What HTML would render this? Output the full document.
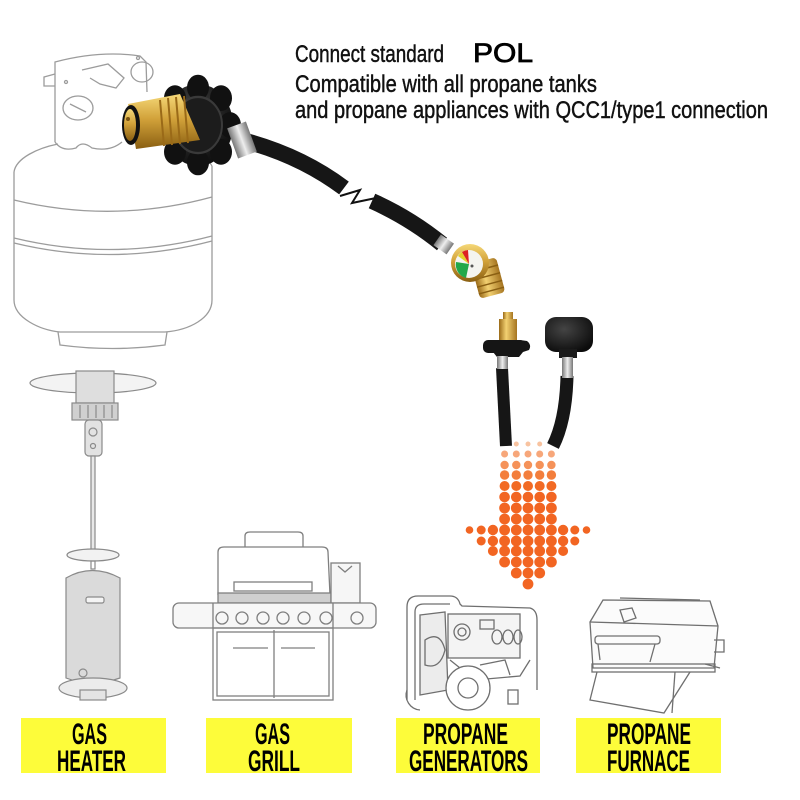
<!DOCTYPE html>
<html><head><meta charset="utf-8"><style>html,body{margin:0;padding:0;background:#fff}svg{display:block}</style></head>
<body>
<svg width="800" height="800" viewBox="0 0 800 800" xmlns="http://www.w3.org/2000/svg">
<defs>
<linearGradient id="brass" x1="0" y1="0" x2="0" y2="1"><stop offset="0" stop-color="#f5d878"/><stop offset=".45" stop-color="#d2a23a"/><stop offset="1" stop-color="#8a5f12"/></linearGradient>
<linearGradient id="brassH" x1="0" y1="0" x2="1" y2="0"><stop offset="0" stop-color="#9a6a18"/><stop offset=".4" stop-color="#f2d071"/><stop offset="1" stop-color="#a57420"/></linearGradient>
<linearGradient id="silver" x1="0" y1="0" x2="1" y2="0"><stop offset="0" stop-color="#777"/><stop offset=".5" stop-color="#eee"/><stop offset="1" stop-color="#777"/></linearGradient>
<radialGradient id="knob" cx=".4" cy=".35" r=".7"><stop offset="0" stop-color="#444"/><stop offset="1" stop-color="#0c0c0c"/></radialGradient>
</defs>
<rect width="800" height="800" fill="#fff"/>

<!-- ===== Tank line art ===== -->
<g fill="none" stroke="#9c9c9c" stroke-width="1.3">
<path d="M14 172 C16 158 38 148 58 144"/>
<path d="M150 142 C178 146 205 153 212 166"/>
<path d="M14 172 L14 300 C14 318 40 330 60 332 L165 332 C190 330 212 318 212 300 L212 166"/>
<path d="M58 332 L60 345 Q112 352 165 345 L167 332"/>
<path d="M14 200 Q113 224 212 197"/>
<path d="M14 238 Q113 262 212 236"/>
<path d="M14 243 Q113 267 212 241"/>
<path d="M55 142 L55 62 Q100 50 140 56 L146 62 L147 92"/>
<path d="M55 142 Q62 152 76 148 Q82 140 92 148 Q110 152 122 142"/>
<ellipse cx="78" cy="108" rx="15" ry="12"/>
<path d="M70 104 L86 112"/>
<ellipse cx="142" cy="72" rx="11" ry="10"/>
<path d="M55 74 L44 77 L44 86 L55 86"/>
<path d="M82 70 L108 64 L124 78 L116 88 L100 84 L90 78"/>
<circle cx="66" cy="82" r="1.5"/><circle cx="138" cy="58" r="1.5"/>
</g>

<!-- ===== Hose 1 ===== -->
<path d="M242 140 Q300 155 344 188" fill="none" stroke="#161616" stroke-width="16"/>
<path d="M372 201 Q410 218 442 244" fill="none" stroke="#161616" stroke-width="16"/>
<polyline points="340,196 360,190 352,203 376,198" fill="none" stroke="#111" stroke-width="2"/>
<rect x="436" y="238" width="16" height="13" fill="url(#silver)" transform="rotate(35 444 244)"/>
<!-- gauge -->
<g transform="rotate(-15 480 275)">
<rect x="474" y="262" width="26" height="36" rx="4" fill="url(#brassH)"/>
<path d="M474 270 H500 M474 278 H500 M474 286 H500 M474 293 H500" stroke="#8a5f12" stroke-width="1.5"/>
</g>
<circle cx="470" cy="263" r="19" fill="url(#brass)"/>
<circle cx="469" cy="264" r="14" fill="#f4f4f0"/>
<path d="M469 264 L456 262 A14 14 0 0 0 466 278 Z" fill="#22a84a"/>
<path d="M469 264 L458 256 A14 14 0 0 1 462 252 Z" fill="#e3d12a"/>
<path d="M469 264 L462 252 A14 14 0 0 1 468 250 Z" fill="#d22"/>
<circle cx="472" cy="266" r="1.5" fill="#555"/>

<!-- ===== Knob + brass POL ===== -->
<g transform="translate(198 125) scale(1 1.17)">
<circle r="35" fill="url(#knob)"/>
<g fill="#111">
<circle cx="0" cy="-32" r="11"/><circle cx="23" cy="-23" r="11"/><circle cx="32" cy="0" r="11"/><circle cx="23" cy="23" r="11"/>
<circle cx="0" cy="32" r="11"/><circle cx="-23" cy="23" r="11"/><circle cx="-32" cy="0" r="11"/><circle cx="-23" cy="-23" r="11"/>
</g>
<circle r="24" fill="#1c1c1c" stroke="#3a3a3a" stroke-width="2"/>
</g>
<rect x="232" y="124" width="20" height="32" fill="url(#silver)" transform="rotate(-20 242 140)"/>
<path d="M128 104 L180 94 L200 140 L136 149 Z" fill="url(#brass)"/>
<path d="M160 100 L164 146 M168 98 L172 145 M176 97 L180 144 M184 96 L188 143" stroke="#9a6a18" stroke-width="2"/>
<ellipse cx="131" cy="125" rx="9" ry="20" fill="#111"/>
<ellipse cx="130" cy="125" rx="6" ry="16" fill="url(#brass)"/>
<circle cx="128" cy="119" r="2" fill="#7a5210"/>

<!-- ===== Top text ===== -->
<g font-family="Liberation Sans, sans-serif" fill="#111" stroke="#111" stroke-width="0.45">
<text x="295" y="62" font-size="24" textLength="149" lengthAdjust="spacingAndGlyphs">Connect standard</text>
<text x="473" y="62" font-size="27" textLength="60" lengthAdjust="spacingAndGlyphs" fill="#000" stroke="#000" stroke-width="0.8">POL</text>
<text x="295" y="92" font-size="24" textLength="302" lengthAdjust="spacingAndGlyphs">Compatible with all propane tanks</text>
<text x="295" y="118" font-size="24" textLength="473" lengthAdjust="spacingAndGlyphs">and propane appliances with QCC1/type1 connection</text>
</g>

<!-- ===== Hose pair 2 ===== -->
<path d="M502 368 L506 446" fill="none" stroke="#161616" stroke-width="12"/>
<path d="M567 376 Q566 420 553 446" fill="none" stroke="#161616" stroke-width="13"/>
<rect x="503" y="312" width="10" height="8" fill="url(#brassH)"/>
<rect x="499" y="319" width="18" height="25" fill="url(#brassH)"/>
<path d="M486 342 Q483 348 487 352 L493 352 L497 357 L519 357 L523 352 L529 350 Q532 345 527 341 L520 340 Z" fill="#151515"/>
<rect x="483" y="340" width="42" height="13" rx="5" fill="#151515"/>
<rect x="497" y="356" width="11" height="13" fill="url(#silver)"/>
<rect x="545" y="317" width="48" height="35" rx="11" fill="url(#knob)"/>
<rect x="559" y="349" width="18" height="9" fill="#1a1a1a"/>
<rect x="562" y="357" width="11" height="21" fill="url(#silver)"/>

<!-- ===== Orange dot arrow ===== -->
<g>
<g fill="#f8c3a0"><circle cx="516.3" cy="444" r="2.5"/><circle cx="528" cy="444" r="2.5"/><circle cx="539.7" cy="444" r="2.5"/></g>
<g fill="#f7a77a"><circle cx="504.6" cy="454" r="3.5"/><circle cx="516.3" cy="454" r="3.5"/><circle cx="528" cy="454" r="3.5"/><circle cx="539.7" cy="454" r="3.5"/><circle cx="551.4" cy="454" r="3.5"/></g>
<g fill="#f59259"><circle cx="504.6" cy="465" r="4.2"/><circle cx="516.3" cy="465" r="4.2"/><circle cx="528" cy="465" r="4.2"/><circle cx="539.7" cy="465" r="4.2"/><circle cx="551.4" cy="465" r="4.2"/></g>
<g fill="#f37e3c"><circle cx="504.6" cy="475" r="4.7"/><circle cx="516.3" cy="475" r="4.7"/><circle cx="528" cy="475" r="4.7"/><circle cx="539.7" cy="475" r="4.7"/><circle cx="551.4" cy="475" r="4.7"/></g>
<g fill="#f26a24"><circle cx="504.6" cy="486" r="5"/><circle cx="516.3" cy="486" r="5"/><circle cx="528" cy="486" r="5"/><circle cx="539.7" cy="486" r="5"/><circle cx="551.4" cy="486" r="5"/></g>
<g fill="#f26522">
<circle cx="504.6" cy="497" r="5.3"/><circle cx="516.3" cy="497" r="5.3"/><circle cx="528" cy="497" r="5.3"/><circle cx="539.7" cy="497" r="5.3"/><circle cx="551.4" cy="497" r="5.3"/>
<circle cx="504.6" cy="508" r="5.4"/><circle cx="516.3" cy="508" r="5.4"/><circle cx="528" cy="508" r="5.4"/><circle cx="539.7" cy="508" r="5.4"/><circle cx="551.4" cy="508" r="5.4"/>
<circle cx="504.6" cy="519" r="5.4"/><circle cx="516.3" cy="519" r="5.4"/><circle cx="528" cy="519" r="5.4"/><circle cx="539.7" cy="519" r="5.4"/><circle cx="551.4" cy="519" r="5.4"/>
<circle cx="469.5" cy="530" r="3.8"/><circle cx="481.2" cy="530" r="4.5"/><circle cx="492.9" cy="530" r="5.2"/><circle cx="504.6" cy="530" r="5.4"/><circle cx="516.3" cy="530" r="5.4"/><circle cx="528" cy="530" r="5.4"/><circle cx="539.7" cy="530" r="5.4"/><circle cx="551.4" cy="530" r="5.4"/><circle cx="563.1" cy="530" r="5.2"/><circle cx="574.8" cy="530" r="4.5"/><circle cx="586.5" cy="530" r="3.8"/>
<circle cx="481.2" cy="541" r="4.5"/><circle cx="492.9" cy="541" r="5.2"/><circle cx="504.6" cy="541" r="5.4"/><circle cx="516.3" cy="541" r="5.4"/><circle cx="528" cy="541" r="5.4"/><circle cx="539.7" cy="541" r="5.4"/><circle cx="551.4" cy="541" r="5.4"/><circle cx="563.1" cy="541" r="5.2"/><circle cx="574.8" cy="541" r="4.5"/>
<circle cx="492.9" cy="551" r="5"/><circle cx="504.6" cy="551" r="5.4"/><circle cx="516.3" cy="551" r="5.4"/><circle cx="528" cy="551" r="5.4"/><circle cx="539.7" cy="551" r="5.4"/><circle cx="551.4" cy="551" r="5.4"/><circle cx="563.1" cy="551" r="5"/>
<circle cx="504.6" cy="562" r="5.4"/><circle cx="516.3" cy="562" r="5.4"/><circle cx="528" cy="562" r="5.4"/><circle cx="539.7" cy="562" r="5.4"/><circle cx="551.4" cy="562" r="5.4"/>
<circle cx="516.3" cy="573" r="5.4"/><circle cx="528" cy="573" r="5.4"/><circle cx="539.7" cy="573" r="5.4"/>
<circle cx="528" cy="584" r="5.4"/>
</g>
</g>

<!-- ===== Patio heater ===== -->
<g stroke="#8a8a8a" stroke-width="1.2" fill="none">
<ellipse cx="93" cy="383" rx="63" ry="10" fill="#f3f3f3"/>
<rect x="76" y="371" width="38" height="32" fill="#dedede"/>
<rect x="72" y="403" width="46" height="17" fill="#d0d0d0"/>
<path d="M80 405 V418 M88 405 V418 M96 405 V418 M104 405 V418 M112 405 V418"/>
<rect x="85" y="420" width="17" height="36" rx="4" fill="#e2e2e2"/>
<circle cx="93" cy="432" r="4"/><circle cx="93" cy="446" r="2.5"/>
<rect x="91" y="456" width="4" height="100" fill="#e8e8e8"/>
<ellipse cx="93" cy="555" rx="26" ry="6" fill="#f2f2f2"/>
<rect x="91" y="561" width="4" height="8"/>
<path d="M66 578 Q92 563 120 578 L120 678 Q92 688 66 678 Z" fill="#dadada"/>
<rect x="86" y="597" width="18" height="6" rx="2" fill="#f4f4f4"/>
<circle cx="83" cy="673" r="4"/>
<ellipse cx="93" cy="688" rx="34" ry="10" fill="#ececec"/>
<rect x="80" y="690" width="26" height="10" fill="#e4e4e4"/>
</g>

<!-- ===== Grill ===== -->
<g stroke="#7f7f7f" stroke-width="1.3" fill="none">
<path d="M245 547 L245 536 Q245 532 250 532 L298 532 Q303 532 303 536 L303 547"/>
<path d="M218 595 L218 552 Q218 547 224 547 L322 547 Q328 547 328 552 L330 595"/>
<rect x="234" y="582" width="78" height="9"/>
<rect x="218" y="593" width="113" height="10" fill="#cfcfcf"/>
<rect x="331" y="563" width="29" height="40" fill="#f6f6f6"/>
<path d="M338 566 L345 572 L352 566"/>
<rect x="173" y="603" width="203" height="25" rx="6" fill="#f7f7f7"/>
<path d="M213 603 V628 M333 603 V628"/>
<circle cx="222" cy="618" r="6"/><circle cx="242" cy="618" r="6"/><circle cx="263" cy="618" r="6"/><circle cx="283" cy="618" r="6"/><circle cx="304" cy="618" r="6"/><circle cx="326" cy="618" r="6"/><circle cx="357" cy="618" r="6"/>
<rect x="213" y="628" width="120" height="72"/>
<path d="M274 630 V698"/>
<path d="M233 648 H268 M281 648 H315"/>
<rect x="217" y="632" width="112" height="64"/>
</g>

<!-- ===== Generator ===== -->
<g stroke="#6f6f6f" stroke-width="1.3" fill="none">
<path d="M407 700 L407 607 Q407 596 418 596 L450 596 Q458 596 460 604 L462 606 L530 608 Q537 610 537 620 L537 690"/>
<path d="M415 700 L415 612 Q415 604 424 604 L450 604"/>
<rect x="448" y="614" width="72" height="44" fill="#f4f4f4"/>
<rect x="480" y="620" width="14" height="9"/>
<circle cx="462" cy="632" r="8"/><circle cx="462" cy="632" r="4"/>
<ellipse cx="497" cy="637" rx="5" ry="7"/><ellipse cx="508" cy="637" rx="5" ry="7"/><ellipse cx="518" cy="637" rx="4" ry="7"/>
<path d="M420 615 L445 612 L448 690 L420 695 Z" fill="#ececec"/>
<path d="M425 640 Q440 630 445 650 Q440 670 425 665 Z"/>
<path d="M450 660 L475 680 L520 676 L530 660"/>
<path d="M480 665 L505 660 L510 675"/>
<circle cx="468" cy="688" r="22" fill="#fff"/>
<circle cx="468" cy="688" r="10"/>
<path d="M407 690 A15 15 0 0 0 420 710"/>
<rect x="508" y="690" width="10" height="14"/>
</g>

<!-- ===== Portable grill (furnace) ===== -->
<g stroke="#6f6f6f" stroke-width="1.3" fill="none">
<path d="M590 622 L603 600 L710 601 L718 626 L714 668 L593 668 Z" fill="#fbfbfb"/>
<path d="M590 622 L718 626"/>
<path d="M620 598 L700 600"/>
<path d="M620 610 L632 608 L636 618 L624 622 Z"/>
<rect x="595" y="636" width="65" height="8" rx="3"/>
<path d="M598 644 L600 660 M655 644 L650 662"/>
<path d="M714 640 L724 640 L724 652 L714 652"/>
<path d="M705 664 L720 668"/>
<rect x="592" y="664" width="123" height="8"/>
<path d="M597 672 L590 700 L664 713 L690 672"/>
<path d="M675 672 L672 713"/>
</g>

<!-- ===== Yellow labels ===== -->
<g fill="#fdfc3a">
<rect x="21" y="718" width="145" height="55"/>
<rect x="206" y="718" width="146" height="55"/>
<rect x="396" y="718" width="144" height="55"/>
<rect x="576" y="718" width="145" height="55"/>
</g>
<g font-family="Liberation Sans, sans-serif" font-weight="bold" font-size="30" fill="#000">
<text x="72" y="744" textLength="35" lengthAdjust="spacingAndGlyphs">GAS</text>
<text x="57" y="771" textLength="69" lengthAdjust="spacingAndGlyphs">HEATER</text>
<text x="255" y="744" textLength="35" lengthAdjust="spacingAndGlyphs">GAS</text>
<text x="248" y="771" textLength="52" lengthAdjust="spacingAndGlyphs">GRILL</text>
<text x="423" y="744" textLength="85" lengthAdjust="spacingAndGlyphs">PROPANE</text>
<text x="409" y="771" textLength="119" lengthAdjust="spacingAndGlyphs">GENERATORS</text>
<text x="607" y="744" textLength="84" lengthAdjust="spacingAndGlyphs">PROPANE</text>
<text x="607" y="771" textLength="83" lengthAdjust="spacingAndGlyphs">FURNACE</text>
</g>
</svg>
</body></html>
